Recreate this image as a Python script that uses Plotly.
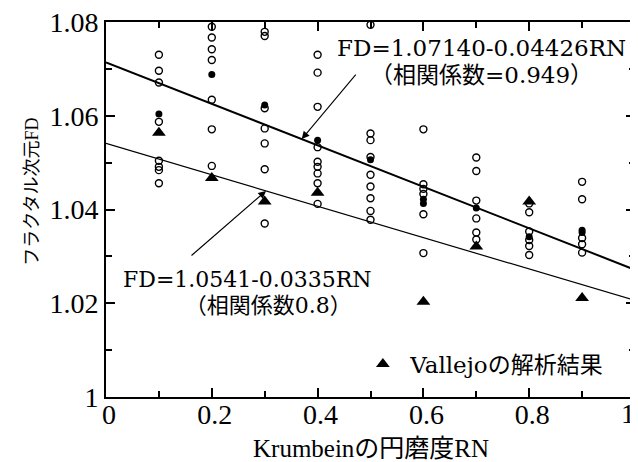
import plotly.graph_objects as go

# ---------------- data ----------------
open_rn = [0.1]*8 + [0.2]*7 + [0.3]*7 + [0.4]*9 + [0.5]*9 + [0.6]*6 + [0.7]*6 + [0.8]*6 + [0.9]*5
open_fd = [
    1.0730, 1.0696, 1.0671, 1.0587, 1.0504, 1.0491, 1.0484, 1.0456,            # 0.1
    1.0790, 1.0767, 1.0742, 1.0719, 1.0634, 1.0571, 1.0493,                    # 0.2
    1.0779, 1.0770, 1.0616, 1.0573, 1.0541, 1.0486, 1.0370,                    # 0.3
    1.0730, 1.0692, 1.0619, 1.0533, 1.0502, 1.0491, 1.0477, 1.0456, 1.0412,    # 0.4
    1.0794, 1.0562, 1.0548, 1.0512, 1.0474, 1.0449, 1.0424, 1.0397, 1.0378,    # 0.5
    1.0571, 1.0454, 1.0444, 1.0433, 1.0390, 1.0307,                            # 0.6
    1.0511, 1.0482, 1.0419, 1.0381, 1.0351, 1.0336,                            # 0.7
    1.0413, 1.0394, 1.0353, 1.0335, 1.0322, 1.0303,                            # 0.8
    1.0459, 1.0422, 1.0339, 1.0326, 1.0308,                                    # 0.9
]

mean_rn = [0.1, 0.2, 0.3, 0.4, 0.5, 0.6, 0.6, 0.7, 0.8, 0.9, 0.9]
mean_fd = [1.0604, 1.0688, 1.0623, 1.0548, 1.0506, 1.0422, 1.0413, 1.0403, 1.0342, 1.0356, 1.0351]

vallejo_rn = [0.1, 0.2, 0.3, 0.4, 0.6, 0.7, 0.8, 0.9]
vallejo_fd = [1.0564, 1.0467, 1.0417, 1.0436, 1.0203, 1.0321, 1.0417, 1.0211]

line_rn = [0.0, 1.0]
reg1_intercept, reg1_slope = 1.07140, -0.04426
reg2_intercept, reg2_slope = 1.0541, -0.0335

# the last x label ("1") sits at the right edge and is written as an annotation
x_tickvals = [0, 0.2, 0.4, 0.6, 0.8, 1.0]
x_ticktext = ["0", "0.2", "0.4", "0.6", "0.8", ""]
x_last_val, x_last_text = 1.0, "1"
x_minorvals = [0.1, 0.3, 0.5, 0.7, 0.9]
y_tickvals = [1.00, 1.02, 1.04, 1.06, 1.08]
y_ticktext = ["1", "1.02", "1.04", "1.06", "1.08"]
y_minorvals = [1.01, 1.03, 1.05, 1.07]

legend_name = "\u00a0Vallejoの解析結果"
eq1_text = "FD=1.07140-0.04426RN"
eq1_r = "（相関係数=0.949）"
eq2_text = "FD=1.0541-0.0335RN"
eq2_r = "（相関係数0.8）"
x_title = "Krumbeinの円磨度RN"
y_title = "フラクタル次元FD"

# ---------------- figure ----------------
SERIF = "Liberation Serif, Noto Sans CJK JP"
CENT = "DejaVu Serif, Noto Sans CJK JP"

fig = go.Figure()

fig.add_trace(go.Scatter(
    x=open_rn, y=open_fd, mode="markers", showlegend=False,
    marker=dict(symbol="circle-open", size=7, color="black", line=dict(width=1.4, color="black")),
))
fig.add_trace(go.Scatter(
    x=mean_rn, y=mean_fd, mode="markers", showlegend=False,
    marker=dict(symbol="circle", size=7, color="black"),
))
fig.add_trace(go.Scatter(
    x=line_rn, y=[reg1_intercept + reg1_slope * r for r in line_rn], mode="lines",
    showlegend=False, line=dict(color="black", width=2),
))
fig.add_trace(go.Scatter(
    x=line_rn, y=[reg2_intercept + reg2_slope * r for r in line_rn], mode="lines",
    showlegend=False, line=dict(color="black", width=1.2),
))
fig.add_trace(go.Scatter(
    x=vallejo_rn, y=vallejo_fd, mode="markers", name=legend_name,
    marker=dict(symbol="triangle-up", size=12, color="black"),
))

axis_common = dict(
    showline=True, linecolor="black", linewidth=2, mirror="allticks",
    ticks="inside", ticklen=9, tickwidth=1.5, tickcolor="black",
    showgrid=False, zeroline=False, ticklabeloverflow="allow", automargin=False,
    tickfont=dict(family=SERIF, size=28, color="black"),
)

fig.update_xaxes(range=[0, 1], tickmode="array", tickvals=x_tickvals, ticktext=x_ticktext,
                 ticklabelstandoff=-9, ticklabelshift=3,
                 minor=dict(tickmode="array", tickvals=x_minorvals, ticks="inside", ticklen=6,
                            tickwidth=1.5, tickcolor="black", showgrid=False),
                 **axis_common)
fig.update_yaxes(range=[1.0, 1.08], tickmode="array", tickvals=y_tickvals, ticktext=y_ticktext,
                 minor=dict(tickmode="array", tickvals=y_minorvals, ticks="inside", ticklen=6,
                            tickwidth=1.5, tickcolor="black", showgrid=False),
                 **axis_common)


def two_lines(a, b, size, pad=0):
    sp = "<span style='font-size:%dpx'>%s</span>"
    return sp % (size, a) + "<br>" + sp % (size, "\u00a0" * pad + b)


annotations = [
    dict(x=0.709, y=1.0716, xref="x", yref="y", text=two_lines(eq1_text, eq1_r, 23),
         showarrow=False, xanchor="center", yanchor="middle", align="center",
         font=dict(family=CENT, size=21, color="black")),
    dict(x=0.2675, y=1.0223, xref="x", yref="y", text=two_lines(eq2_text, eq2_r, 22, pad=6),
         showarrow=False, xanchor="center", yanchor="middle", align="center",
         font=dict(family=CENT, size=20, color="black")),
    # arrows to the regression lines
    dict(x=0.37, y=reg1_intercept + reg1_slope * 0.37, xref="x", yref="y",
         ax=0.4745, ay=1.0691, axref="x", ayref="y", text="", showarrow=True,
         arrowhead=2, arrowsize=1.4, arrowwidth=1.1, arrowcolor="black"),
    dict(x=0.3025, y=reg2_intercept + reg2_slope * 0.3025, xref="x", yref="y",
         ax=0.1588, ay=1.0299, axref="x", ayref="y", text="", showarrow=True,
         arrowhead=2, arrowsize=1.4, arrowwidth=1.1, arrowcolor="black"),
    # last x tick label, kept inside the window
    dict(x=x_last_val, y=-0.043, xref="x", yref="paper", text=x_last_text, showarrow=False,
         xanchor="right", yanchor="middle", xshift=2,
         font=dict(family=SERIF, size=28, color="black")),
    # axis titles
    dict(x=0.5, y=-0.136, xref="paper", yref="paper", text=x_title, showarrow=False,
         xanchor="center", yanchor="middle", font=dict(family=SERIF, size=25, color="black")),
    dict(x=-0.140, y=0.547, xref="paper", yref="paper", text=y_title, showarrow=False,
         textangle=-90, xanchor="center", yanchor="middle",
         font=dict(family=SERIF, size=18, color="black")),
]

# the page body has an 8 px default margin: the figure is sized so that the
# plot frame lands at 106..635 x 22..397 in the 638x462 window
fig.update_layout(
    width=630, height=454,
    margin=dict(l=98, r=3, t=14, b=65, autoexpand=False),
    paper_bgcolor="white", plot_bgcolor="white",
    annotations=annotations,
    showlegend=True,
    legend=dict(x=0.4856, y=0.088, xanchor="left", yanchor="middle",
                bgcolor="rgba(0,0,0,0)", borderwidth=0,
                font=dict(family=CENT, size=23, color="black")),
)

fig.write_html("out.html")
